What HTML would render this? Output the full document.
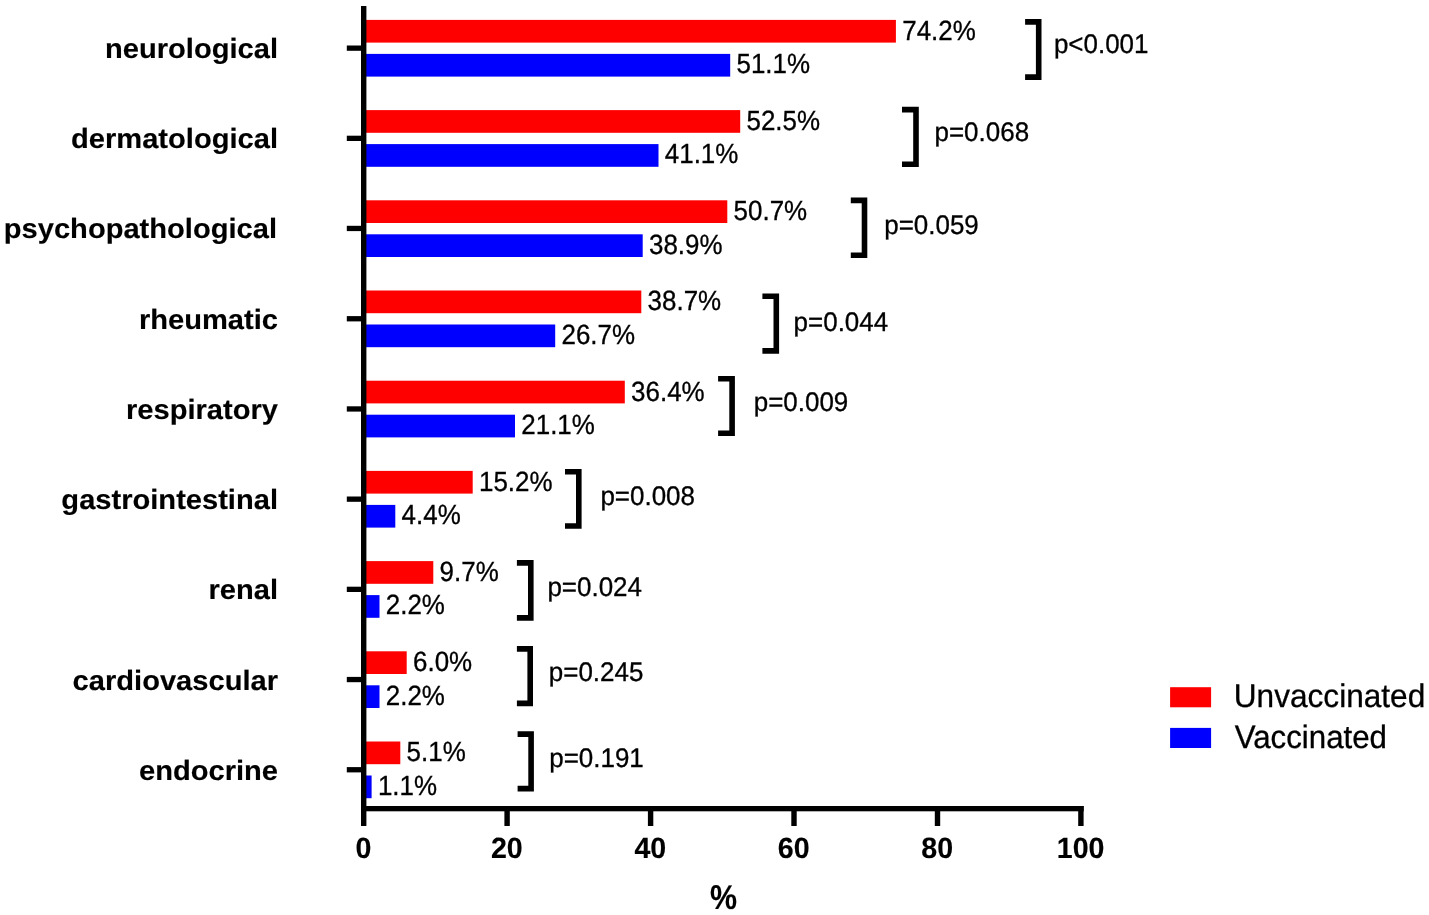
<!DOCTYPE html>
<html lang="en"><head><meta charset="utf-8"><title>Chart</title>
<style>
html,body{margin:0;padding:0;background:#fff;}
body{width:1429px;height:915px;overflow:hidden;}
svg{display:block;}
text{font-family:"Liberation Sans",Arial,Helvetica,sans-serif;fill:#000;stroke:#000;stroke-width:0.3px;text-rendering:geometricPrecision;}
.b{font-weight:bold;stroke-width:0.15px;}
</style></head><body>
<svg width="1429" height="915" viewBox="0 0 1429 915">
<rect width="1429" height="915" fill="#fff"/>
<rect x="363.7" y="19.9" width="532.2" height="22.7" fill="#fe0000"/>
<rect x="363.7" y="53.9" width="366.5" height="22.7" fill="#0000fe"/>
<text transform="translate(902.2 39.8) scale(1 1.07)" font-size="25.95">74.2%</text>
<text transform="translate(736.5 73.2) scale(1 1.07)" font-size="25.95">51.1%</text>
<rect x="346.8" y="45.5" width="16" height="5.3" fill="#000"/>
<text class="b" transform="translate(278.0 58.0) scale(1 0.957)" font-size="29.1" text-anchor="end">neurological</text>
<rect x="363.7" y="110.1" width="376.5" height="22.7" fill="#fe0000"/>
<rect x="363.7" y="144.1" width="294.8" height="22.7" fill="#0000fe"/>
<text transform="translate(746.5 130.0) scale(1 1.07)" font-size="25.95">52.5%</text>
<text transform="translate(664.8 163.4) scale(1 1.07)" font-size="25.95">41.1%</text>
<rect x="346.8" y="135.7" width="16" height="5.3" fill="#000"/>
<text class="b" transform="translate(278.0 148.2) scale(1 0.957)" font-size="29.1" text-anchor="end">dermatological</text>
<rect x="363.7" y="200.3" width="363.6" height="22.7" fill="#fe0000"/>
<rect x="363.7" y="234.3" width="279.0" height="22.7" fill="#0000fe"/>
<text transform="translate(733.6 220.2) scale(1 1.07)" font-size="25.95">50.7%</text>
<text transform="translate(649.0 253.6) scale(1 1.07)" font-size="25.95">38.9%</text>
<rect x="346.8" y="225.8" width="16" height="5.3" fill="#000"/>
<text class="b" transform="translate(277.0 238.4) scale(1 0.957)" font-size="29.1" text-anchor="end">psychopathological</text>
<rect x="363.7" y="290.5" width="277.6" height="22.7" fill="#fe0000"/>
<rect x="363.7" y="324.5" width="191.5" height="22.7" fill="#0000fe"/>
<text transform="translate(647.6 310.4) scale(1 1.07)" font-size="25.95">38.7%</text>
<text transform="translate(561.5 343.8) scale(1 1.07)" font-size="25.95">26.7%</text>
<rect x="346.8" y="316.1" width="16" height="5.3" fill="#000"/>
<text class="b" transform="translate(278.0 328.7) scale(1 0.957)" font-size="29.1" text-anchor="end">rheumatic</text>
<rect x="363.7" y="380.7" width="261.1" height="22.7" fill="#fe0000"/>
<rect x="363.7" y="414.7" width="151.3" height="22.7" fill="#0000fe"/>
<text transform="translate(631.1 400.6) scale(1 1.07)" font-size="25.95">36.4%</text>
<text transform="translate(521.3 434.0) scale(1 1.07)" font-size="25.95">21.1%</text>
<rect x="346.8" y="406.3" width="16" height="5.3" fill="#000"/>
<text class="b" transform="translate(278.0 418.9) scale(1 0.957)" font-size="29.1" text-anchor="end">respiratory</text>
<rect x="363.7" y="470.9" width="109.0" height="22.7" fill="#fe0000"/>
<rect x="363.7" y="504.9" width="31.6" height="22.7" fill="#0000fe"/>
<text transform="translate(479.0 490.8) scale(1 1.07)" font-size="25.95">15.2%</text>
<text transform="translate(401.6 524.2) scale(1 1.07)" font-size="25.95">4.4%</text>
<rect x="346.8" y="496.5" width="16" height="5.3" fill="#000"/>
<text class="b" transform="translate(278.0 509.1) scale(1 0.957)" font-size="29.1" text-anchor="end">gastrointestinal</text>
<rect x="363.7" y="561.1" width="69.6" height="22.7" fill="#fe0000"/>
<rect x="363.7" y="595.1" width="15.8" height="22.7" fill="#0000fe"/>
<text transform="translate(439.6 581.0) scale(1 1.07)" font-size="25.95">9.7%</text>
<text transform="translate(385.8 614.4) scale(1 1.07)" font-size="25.95">2.2%</text>
<rect x="346.8" y="586.7" width="16" height="5.3" fill="#000"/>
<text class="b" transform="translate(278.0 599.3) scale(1 0.957)" font-size="29.1" text-anchor="end">renal</text>
<rect x="363.7" y="651.3" width="43.0" height="22.7" fill="#fe0000"/>
<rect x="363.7" y="685.3" width="15.8" height="22.7" fill="#0000fe"/>
<text transform="translate(413.0 671.1) scale(1 1.07)" font-size="25.95">6.0%</text>
<text transform="translate(385.8 704.6) scale(1 1.07)" font-size="25.95">2.2%</text>
<rect x="346.8" y="676.9" width="16" height="5.3" fill="#000"/>
<text class="b" transform="translate(278.0 689.5) scale(1 0.957)" font-size="29.1" text-anchor="end">cardiovascular</text>
<rect x="363.7" y="741.5" width="36.6" height="22.7" fill="#fe0000"/>
<rect x="363.7" y="775.5" width="7.9" height="22.7" fill="#0000fe"/>
<text transform="translate(406.6 761.4) scale(1 1.07)" font-size="25.95">5.1%</text>
<text transform="translate(377.9 794.8) scale(1 1.07)" font-size="25.95">1.1%</text>
<rect x="346.8" y="767.1" width="16" height="5.3" fill="#000"/>
<text class="b" transform="translate(278.0 779.7) scale(1 0.957)" font-size="29.1" text-anchor="end">endocrine</text>
<path d="M1025.1 21.9H1038.7V77.1H1025.1" fill="none" stroke="#000" stroke-width="5.6"/>
<text transform="translate(1053.9 53.4) scale(1 1.035)" font-size="25.97">p&lt;0.001</text>
<path d="M902.0 109.6H916.0V164.2H902.0" fill="none" stroke="#000" stroke-width="5.6"/>
<text transform="translate(934.5 140.7) scale(1 1.035)" font-size="25.97">p=0.068</text>
<path d="M850.8 200.4H864.5V255.2H850.8" fill="none" stroke="#000" stroke-width="5.6"/>
<text transform="translate(884.2 233.5) scale(1 1.035)" font-size="25.97">p=0.059</text>
<path d="M762.4 296.2H776.3V350.9H762.4" fill="none" stroke="#000" stroke-width="5.6"/>
<text transform="translate(793.6 330.8) scale(1 1.035)" font-size="25.97">p=0.044</text>
<path d="M718.1 378.7H732.1V433.2H718.1" fill="none" stroke="#000" stroke-width="5.6"/>
<text transform="translate(753.7 411.2) scale(1 1.035)" font-size="25.97">p=0.009</text>
<path d="M565.0 471.7H578.8V526.0H565.0" fill="none" stroke="#000" stroke-width="5.6"/>
<text transform="translate(600.4 504.9) scale(1 1.035)" font-size="25.97">p=0.008</text>
<path d="M516.9 562.9H530.8V617.9H516.9" fill="none" stroke="#000" stroke-width="5.6"/>
<text transform="translate(547.4 595.8) scale(1 1.035)" font-size="25.97">p=0.024</text>
<path d="M516.9 648.9H530.2V703.4H516.9" fill="none" stroke="#000" stroke-width="5.6"/>
<text transform="translate(548.8 681.1) scale(1 1.035)" font-size="25.97">p=0.245</text>
<path d="M517.6 734.1H531.1V788.6H517.6" fill="none" stroke="#000" stroke-width="5.6"/>
<text transform="translate(549.2 766.8) scale(1 1.035)" font-size="25.97">p=0.191</text>
<rect x="361" y="6" width="5.4" height="820" fill="#000"/>
<rect x="361" y="806" width="722.7" height="5.3" fill="#000"/>
<text class="b" transform="translate(363.4 857.9) scale(1 1.029)" font-size="28.6" text-anchor="middle">0</text>
<rect x="504.4" y="806" width="5.4" height="20" fill="#000"/>
<text class="b" transform="translate(506.8 857.9) scale(1 1.029)" font-size="28.6" text-anchor="middle">20</text>
<rect x="647.9" y="806" width="5.4" height="20" fill="#000"/>
<text class="b" transform="translate(650.3 857.9) scale(1 1.029)" font-size="28.6" text-anchor="middle">40</text>
<rect x="791.3" y="806" width="5.4" height="20" fill="#000"/>
<text class="b" transform="translate(793.7 857.9) scale(1 1.029)" font-size="28.6" text-anchor="middle">60</text>
<rect x="934.8" y="806" width="5.4" height="20" fill="#000"/>
<text class="b" transform="translate(937.2 857.9) scale(1 1.029)" font-size="28.6" text-anchor="middle">80</text>
<rect x="1078.2" y="806" width="5.4" height="20" fill="#000"/>
<text class="b" transform="translate(1080.6 857.9) scale(1 1.029)" font-size="28.6" text-anchor="middle">100</text>
<text class="b" transform="translate(709.9 908.8) scale(1 1.13)" font-size="30.4">%</text>
<rect x="1170.1" y="687.2" width="41" height="20.1" fill="#fe0000"/>
<rect x="1170.1" y="727.9" width="41" height="20.1" fill="#0000fe"/>
<text transform="translate(1233.8 707.0) scale(1 1.035)" font-size="31.6">Unvaccinated</text>
<text transform="translate(1234.7 747.5) scale(1 1.035)" font-size="31.25">Vaccinated</text>
</svg></body></html>
